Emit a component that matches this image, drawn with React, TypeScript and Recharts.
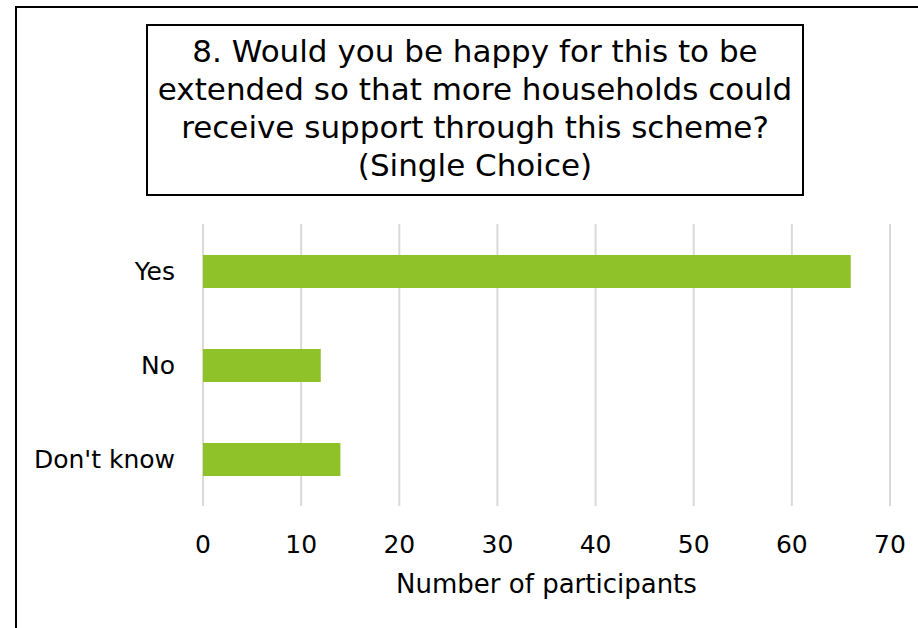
import React from 'react';
import { BarChart, Bar, XAxis, YAxis, CartesianGrid, Label } from 'recharts';

const categories = ['Yes', 'No', "Don't know"];
const participants = [66, 12, 14];
const xTicks = [0, 10, 20, 30, 40, 50, 60, 70];
const titleLines = [
  '8. Would you be happy for this to be',
  'extended so that more households could',
  'receive support through this scheme?',
  '(Single Choice)',
];
const axisTitle = 'Number of participants';

const data = categories.map((c, i) => ({ name: c, value: participants[i] }));
const FONT = '"DejaVu Sans", sans-serif';

export default function App() {
  return (
    <div style={{ position: 'absolute', left: 0, top: 0, width: 918, height: 628, background: '#fff', overflow: 'hidden', fontFamily: FONT }}>
      <BarChart
        width={918}
        height={628}
        data={data}
        layout="vertical"
        margin={{ top: 224, right: 28, bottom: 35, left: 23 }}
        barSize={33}
      >
        <CartesianGrid horizontal={false} stroke="#d9d9d9" strokeWidth={2} />
        <XAxis
          type="number"
          domain={[0, 70]}
          ticks={xTicks}
          axisLine={false}
          tickLine={false}
          tickMargin={23}
          height={87}
          tick={{ fill: '#000', fontSize: 25, fontFamily: FONT }}
        >
          <Label value={axisTitle} position="insideBottom" offset={0} style={{ fill: '#000', fontSize: 26, fontFamily: FONT }} />
        </XAxis>
        <YAxis
          type="category"
          dataKey="name"
          width={180}
          axisLine={false}
          tickLine={false}
          tickMargin={22}
          tick={{ fill: '#000', fontSize: 25, fontFamily: FONT }}
        />
        <Bar dataKey="value" fill="#8fc128" isAnimationActive={false} />
      </BarChart>
      <div style={{ position: 'absolute', left: 15, top: 6, width: 930, height: 640, border: '2px solid #000', boxSizing: 'border-box', pointerEvents: 'none' }} />
      <div style={{ position: 'absolute', left: 146, top: 24, width: 658, height: 172, border: '2px solid #000', boxSizing: 'border-box', textAlign: 'center', fontSize: 31, lineHeight: '38px', paddingTop: 6, color: '#000', background: '#fff' }}>
        {titleLines.map((l, i) => (
          <div key={i}>{l}</div>
        ))}
      </div>
    </div>
  );
}
